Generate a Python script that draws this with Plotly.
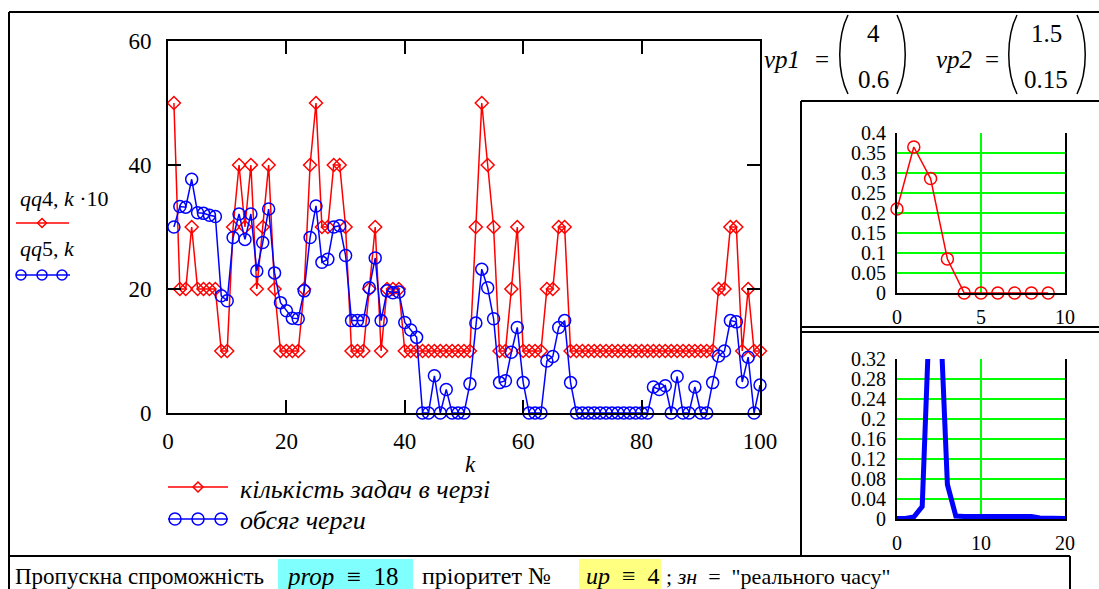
import plotly.graph_objects as go

W, H = 1099, 589
SERIF = "Liberation Serif"

# ---------------- data ----------------
k = list(range(1, 101))
tasks_x10 = [50, 20, 20, 30, 20, 20, 20, 20, 10, 10,
             30, 40, 30, 40, 20, 30, 40, 20, 10, 10,
             10, 10, 20, 40, 50, 30, 30, 40, 40, 30,
             10, 10, 10, 20, 30, 10, 20, 20, 20, 10,
             10, 10, 10, 10, 10, 10, 10, 10, 10, 10,
             10, 30, 50, 40, 30, 10, 10, 20, 30, 10,
             10, 10, 10, 20, 20, 30, 30, 10, 10, 10,
             10, 10, 10, 10, 10, 10, 10, 10, 10, 10,
             10, 10, 10, 10, 10, 10, 10, 10, 10, 10,
             10, 10, 20, 20, 30, 30, 10, 20, 10, 10]
queue_volume = [30.0, 33.3, 33.2, 37.7, 32.3, 32.2, 31.9, 31.7, 18.9, 18.1,
                28.3, 32.1, 28.0, 32.1, 22.9, 27.5, 32.9, 22.6, 17.8, 16.5,
                15.3, 15.2, 19.7, 28.3, 33.4, 24.3, 24.8, 30.0, 30.2, 25.4,
                14.9, 14.9, 14.9, 20.2, 25.0, 14.9, 19.7, 19.4, 19.5, 14.6,
                13.4, 12.2, 0, 0, 6.0, 0, 3.8, 0, 0, 0,
                4.7, 14.5, 23.2, 20.2, 15.2, 4.9, 5.2, 9.8, 13.8, 4.9,
                0, 0, 0, 8.4, 9.1, 13.8, 14.9, 4.9, 0, 0,
                0, 0, 0, 0, 0, 0, 0, 0, 0, 0,
                0, 4.2, 3.8, 4.4, 0, 5.9, 0, 0, 4.2, 0,
                0, 4.9, 9.2, 10.0, 14.9, 14.7, 5.0, 9.0, 0, 4.5]

n1 = list(range(10))
p1 = [0.21, 0.365, 0.286, 0.085, 0, 0, 0, 0, 0, 0]
n2 = list(range(21))
p2 = [0.001, 0.001, 0.004, 0.025, 0.47, 0.47, 0.069, 0.006, 0.005, 0.005, 0.005,
      0.005, 0.005, 0.005, 0.005, 0.005, 0.005, 0.002, 0.001, 0.001, 0.001]

main_yticks = [0, 20, 40, 60]
main_xticks = [0, 20, 40, 60, 80, 100]
s1_yticks = [0, 0.05, 0.1, 0.15, 0.2, 0.25, 0.3, 0.35, 0.4]
s1_xticks = [0, 5, 10]
s2_yticks = [0, 0.04, 0.08, 0.12, 0.16, 0.2, 0.24, 0.28, 0.32]
s2_xticks = [0, 10, 20]


def px(x):
    return x / W


def py(y):
    return 1 - y / H


def fmt(v):
    return f"{v:g}"


def tfont(size):
    return dict(family=SERIF, size=size, color="black")


fig = go.Figure()

fig.add_trace(go.Scatter(x=k, y=tasks_x10, mode="lines+markers", xaxis="x", yaxis="y",
                         line=dict(color="#ff0000", width=1.5),
                         marker=dict(symbol="diamond-open", size=10, color="#ff0000",
                                     line=dict(width=1.5)),
                         cliponaxis=False, showlegend=False))
fig.add_trace(go.Scatter(x=k, y=queue_volume, mode="lines+markers", xaxis="x", yaxis="y",
                         line=dict(color="#0000ff", width=1.5),
                         marker=dict(symbol="circle-open", size=12, color="#0000ff",
                                     line=dict(width=1.5)),
                         cliponaxis=False, showlegend=False))
fig.add_trace(go.Scatter(x=n1, y=p1, mode="lines+markers", xaxis="x2", yaxis="y2",
                         line=dict(color="#ff0000", width=1.5),
                         marker=dict(symbol="circle-open", size=12, color="#ff0000",
                                     line=dict(width=1.5)),
                         cliponaxis=False, showlegend=False))
fig.add_trace(go.Scatter(x=n2, y=p2, mode="lines", xaxis="x3", yaxis="y3",
                         line=dict(color="#0000ff", width=5),
                         showlegend=False))


def main_axis(**kw):
    d = dict(showline=True, linecolor="black", linewidth=2, mirror="ticks",
             ticks="inside", ticklen=13, tickwidth=2, tickcolor="black",
             showgrid=False, zeroline=False, tickfont=tfont(23))
    d.update(kw)
    return d


def small_axis(**kw):
    d = dict(showgrid=True, gridcolor="#00ff00", gridwidth=2,
             showline=True, linecolor="black", linewidth=2,
             ticks="", zeroline=False, tickfont=tfont(20), ticklabelstandoff=5)
    d.update(kw)
    return d


fig.update_layout(
    template="none",
    width=W, height=H, autosize=False,
    margin=dict(l=0, r=0, t=0, b=0, autoexpand=False),
    paper_bgcolor="white", plot_bgcolor="white",
    font=tfont(20),
    xaxis=main_axis(domain=[px(168), px(760)], range=[0, 100], anchor="y",
                    tickvals=main_xticks, ticktext=[fmt(v) for v in main_xticks],
                    ticklabelstandoff=6),
    yaxis=main_axis(domain=[py(413), py(41)], range=[0, 60], anchor="x",
                    tickvals=main_yticks, ticktext=[fmt(v) for v in main_yticks],
                    ticklabelstandoff=10),
    xaxis2=small_axis(domain=[px(897), px(1065)], range=[0, 10], anchor="y2", mirror=False,
                      tickvals=s1_xticks, ticktext=[fmt(v) for v in s1_xticks]),
    yaxis2=small_axis(domain=[py(293), py(133)], range=[0, 0.4], anchor="x2", mirror=True,
                      tickvals=s1_yticks, ticktext=[fmt(v) for v in s1_yticks]),
    xaxis3=small_axis(domain=[px(897), px(1065)], range=[0, 20], anchor="y3", mirror=False,
                      tickvals=s2_xticks, ticktext=[fmt(v) for v in s2_xticks]),
    yaxis3=small_axis(domain=[py(519), py(359)], range=[0, 0.32], anchor="x3", mirror=True,
                      tickvals=s2_yticks, ticktext=[fmt(v) for v in s2_yticks]),
)

shapes = []


def hline(x0, x1, y, w=2, color="black"):
    shapes.append(dict(type="line", xref="paper", yref="paper", x0=px(x0), x1=px(x1),
                       y0=py(y), y1=py(y), line=dict(color=color, width=w)))


def vline(x, y0, y1, w=2, color="black"):
    shapes.append(dict(type="line", xref="paper", yref="paper", x0=px(x), x1=px(x),
                       y0=py(y0), y1=py(y1), line=dict(color=color, width=w)))


def path_str(cmds, close=False):
    s = ""
    for cmd, coords in cmds:
        s += cmd + " " + " ".join(f"{px(x):.5f},{py(y):.5f}" for x, y in coords) + " "
    if close:
        s += "Z"
    return s.strip()


def path(cmds, close=False, color="black", w=1.5):
    shapes.append(dict(type="path", xref="paper", yref="paper", path=path_str(cmds, close),
                       line=dict(color=color, width=w)))


def rect(x0, y0, x1, y1, fill):
    shapes.append(dict(type="rect", xref="paper", yref="paper", x0=px(x0), x1=px(x1),
                       y0=py(y1), y1=py(y0), fillcolor=fill, line=dict(width=0),
                       layer="below"))


def circle(cx, cy, r, color, w=1.5):
    shapes.append(dict(type="circle", xref="paper", yref="paper",
                       x0=px(cx - r), x1=px(cx + r), y0=py(cy + r), y1=py(cy - r),
                       line=dict(color=color, width=w)))


def diamond(cx, cy, r, color, w=1.5):
    path([("M", [(cx, cy - r)]), ("L", [(cx + r, cy)]), ("L", [(cx, cy + r)]),
          ("L", [(cx - r, cy)])], close=True, color=color, w=w)


# region frames
hline(9, 1099, 12)
vline(9, 12, 589)
hline(9, 1070, 556)
vline(1070, 556, 589)
hline(801, 1099, 101)
vline(801, 101, 556)
hline(801, 1099, 327)
hline(801, 1099, 332)

# highlight boxes in bottom row
rect(278, 559, 413, 589, "#80ffff")
rect(579, 559, 661, 589, "#ffff80")

# main legend samples
hline(168, 228, 487, w=1.5, color="#ff0000")
diamond(198, 487, 5, "#ff0000")
hline(168, 228, 519, w=1.5, color="#0000ff")
for cx in (175, 198, 221):
    circle(cx, 519, 6, "#0000ff")

# left-side legend samples
hline(16, 69, 223, w=1.5, color="#ff0000")
diamond(42, 223, 4.5, "#ff0000")
hline(16, 70, 275, w=1.5, color="#0000ff")
for cx in (21, 42, 62):
    circle(cx, 275, 5, "#0000ff")


# matrix parentheses
def lparen(x, y0, y1, depth=11):
    ym1 = y0 + (y1 - y0) * 0.28
    ym2 = y0 + (y1 - y0) * 0.72
    path([("M", [(x + depth, y0)]), ("C", [(x, ym1), (x, ym2), (x + depth, y1)])], w=1.5)


def rparen(x, y0, y1, depth=11):
    ym1 = y0 + (y1 - y0) * 0.28
    ym2 = y0 + (y1 - y0) * 0.72
    path([("M", [(x - depth, y0)]), ("C", [(x, ym1), (x, ym2), (x - depth, y1)])], w=1.5)


lparen(837, 15, 94)
rparen(908, 15, 94)
lparen(1006, 15, 94)
rparen(1088, 15, 94)

fig.update_layout(shapes=shapes)

ann = []


def text(x, y, s, size=22, anchor="left", italic=False):
    if italic:
        s = "<i>" + s + "</i>"
    ann.append(dict(xref="paper", yref="paper", x=px(x), y=py(y), text=s,
                    showarrow=False, xanchor=anchor, yanchor="middle",
                    align=("left" if anchor == "left" else "center"),
                    font=tfont(size)))


SP = "\u2002"

# axis title
text(470, 464, "k", size=23, anchor="center", italic=True)
# main legend
text(238, 489, "кількість задач в черзі", size=26, italic=True)
text(238, 520, "обсяг черги", size=26, italic=True)
# left legend
text(18, 198, "<i>qq</i>4, <i>k</i> ·10", size=22)
text(18, 248, "<i>qq</i>5, <i>k</i>", size=22)
# matrices
text(762, 60, "vp1", size=25, italic=True)
text(822, 60, "=", size=25, anchor="center")
text(873, 34, "4", size=25, anchor="center")
text(873, 80, "0.6", size=25, anchor="center")
text(934, 60, "vp2", size=25, italic=True)
text(992, 60, "=", size=25, anchor="center")
text(1046, 34, "1.5", size=25, anchor="center")
text(1046, 80, "0.15", size=25, anchor="center")
# bottom row
text(13, 576, "Пропускна спроможність", size=23)
text(284, 576, "<i>prop</i>" + SP + "≡" + SP + "18", size=25)
text(420, 576, "пріоритет №", size=24)
text(584, 576, "<i>up</i>" + SP + "≡" + SP + "4", size=24)
text(664, 576, "; <i>зн</i>  =  \"реального часу\"", size=22)

fig.update_layout(annotations=ann)

fig.write_html("out.html")
